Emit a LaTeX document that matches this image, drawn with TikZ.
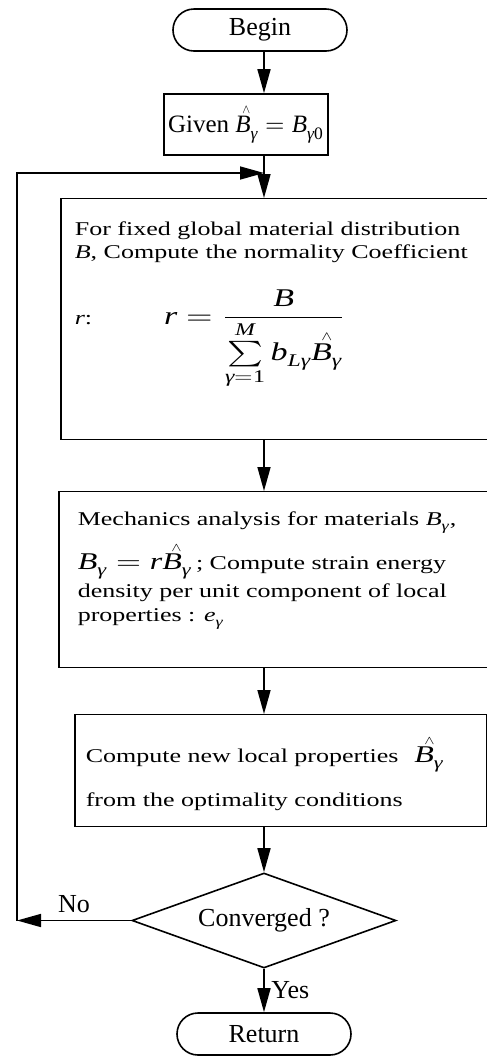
\documentclass[tikz,border=0pt]{standalone}
\usepackage{unicode-math}
\setmainfont{Liberation Serif}
\setmathfont{Latin Modern Math}
\setmathfont[range={it/{latin,Latin,greek,Greek}}]{Liberation Serif Italic}
\setmathfont[range=up/num]{Liberation Serif}
\usetikzlibrary{arrows.meta,shapes.geometric,shapes.misc}
\newcommand{\hatB}{\rlap{\kern0.3em\raisebox{0.76em}{$\scriptscriptstyle\wedge$}}B}

\begin{document}
\begin{tikzpicture}[x=0.5pt,y=-0.5pt,line width=0.8pt,
  font=\fontsize{13}{15.5}\selectfont,
  flow/.style={-{Triangle[length=12pt,width=6.5pt]}},
  terminal/.style={draw, rounded rectangle, minimum width=87pt, minimum height=21pt, inner sep=0pt},
  process/.style={draw, rectangle, yscale=.75, anchor=north west, inner xsep=7pt, inner ysep=0pt},
  decision/.style={draw, diamond, aspect=2.8, minimum width=132pt, minimum height=47.5pt, inner sep=0pt}]
  \useasboundingbox (0,0) rectangle (487,1057);
  \coordinate (spine) at (264,0);
  \coordinate (merge) at (264,173);
  \coordinate (back) at (17,920.5);

  \node[terminal] (begin) at (260,30) {Begin};
  \node[draw, minimum width=74pt, minimum height=30.5pt, inner xsep=2pt,
        font=\fontsize{12.5}{14}\selectfont] (given) at (246,124.5)
    {Given $\hatB_\gamma = B_{\gamma 0}$};
  \node[process] (coef) at (60,198)
    {\parbox[t][160.7pt][t]{210pt}{\raggedright\vspace*{15.5pt}
     For fixed global material distribution\\
     $B$, Compute the normality Coefficient\\[17pt]
     $r$:\hspace{36pt}{\fontsize{17}{20}\selectfont$\displaystyle r=\frac{B}{\sum\limits_{\gamma=1}^{M} b_{L\gamma}\hatB_\gamma}$}}};
  \node[process, inner xsep=9.5pt] (mech) at (58,491)
    {\parbox[t][117.3pt][t]{210pt}{\raggedright\fontsize{13}{16.5}\selectfont\vspace*{13.5pt}
     Mechanics analysis for materials $B_\gamma$,\\[6pt]
     {\fontsize{16}{18}\selectfont$B_\gamma = r\hatB_\gamma$}\,; Compute strain energy\\[2pt]
     density per unit component of local\\
     properties : $e_\gamma$}};
  \node[process, inner xsep=5.5pt] (update) at (74,714)
    {\parbox[t][74.7pt][t]{195pt}{\raggedright\fontsize{13}{16.5}\selectfont\vspace*{15pt}
     Compute new local properties\hspace{8pt}{\fontsize{16}{18}\selectfont$\hatB_\gamma$}\\[13pt]
     from the optimality conditions}};
  \node[decision] (conv) at (264,920.5) {Converged ?};
  \node[terminal] (ret) at (264,1034) {Return};

  \draw[flow] (begin.south -| spine) -- (given.north -| spine);
  \draw[flow] (given.south -| spine) -- (coef.north -| spine);
  \draw[flow] (coef.south -| spine) -- (mech.north -| spine);
  \draw[flow] (mech.south -| spine) -- (update.north -| spine);
  \draw[flow] (update.south -| spine) -- (conv.north);
  \draw[flow] (conv.south) -- node[right] {Yes} (ret.north);
  % loop back when not converged
  \draw[flow] (conv.west) -- node[above] {No} (back);
  \draw[flow] (back) |- (merge);
\end{tikzpicture}
\end{document}
